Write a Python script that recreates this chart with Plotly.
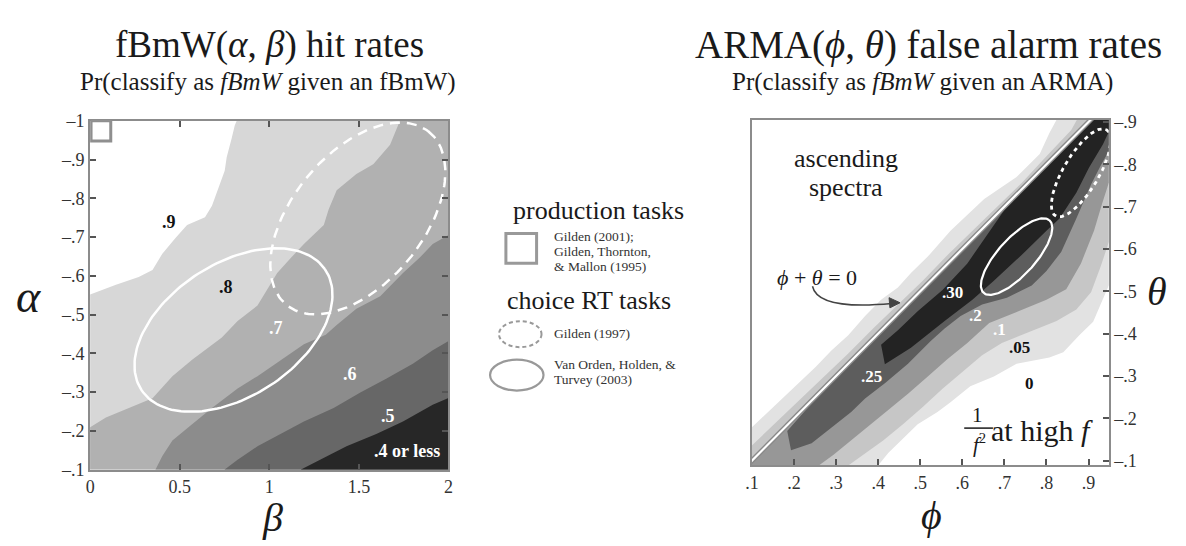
import numpy as np
import plotly.graph_objects as go

W, H = 1186, 546
SERIF = "Liberation Serif"

# ===================== LEFT PANEL: fBmW(alpha, beta) hit rates =====================
beta_ticks = [0, 0.5, 1, 1.5, 2]
beta_ticktext = ["0", "0.5", "1", "1.5", "2"]
alpha_ticks = [-1.0, -0.9, -0.8, -0.7, -0.6, -0.5, -0.4, -0.3, -0.2, -0.1]
alpha_ticktext = ["–1", "–.9", "–.8", "–.7", "–.6", "–.5", "–.4", "–.3", "–.2", "–.1"]

# contour boundaries (beta, alpha)
hit_b90_beta = [0.818, 0.807, 0.790, 0.762, 0.751, 0.713, 0.680, 0.641, 0.541, 0.475, 0.403, 0.348, 0.271, 0.144, 0.0]
hit_b90_alpha = [-1.0, -0.988, -0.955, -0.906, -0.871, -0.821, -0.781, -0.751, -0.731, -0.697, -0.657, -0.615, -0.597, -0.577, -0.552]
hit_b80_beta = [1.729, 1.674, 1.580, 1.486, 1.376, 1.331, 1.304, 1.193, 1.122, 1.044, 1.011, 0.934, 0.823, 0.735, 0.569, 0.459, 0.348, 0.215, 0.088, 0.0]
hit_b80_alpha = [-1.0, -0.938, -0.888, -0.863, -0.821, -0.771, -0.731, -0.682, -0.647, -0.607, -0.582, -0.523, -0.483, -0.441, -0.383, -0.341, -0.284, -0.259, -0.234, -0.209]
hit_b70_beta = [2.006, 1.912, 1.840, 1.746, 1.619, 1.486, 1.376, 1.315, 1.193, 1.066, 0.934, 0.823, 0.680, 0.569, 0.459, 0.403, 0.365]
hit_b70_alpha = [-0.707, -0.682, -0.647, -0.607, -0.547, -0.515, -0.473, -0.448, -0.423, -0.383, -0.341, -0.309, -0.259, -0.217, -0.175, -0.135, -0.100]
hit_b60_beta = [2.006, 1.912, 1.801, 1.652, 1.508, 1.359, 1.193, 1.066, 0.934, 0.823, 0.751]
hit_b60_alpha = [-0.433, -0.408, -0.373, -0.334, -0.299, -0.259, -0.224, -0.192, -0.160, -0.125, -0.100]
hit_b50_beta = [2.006, 1.912, 1.746, 1.597, 1.431, 1.287, 1.177]
hit_b50_alpha = [-0.286, -0.267, -0.224, -0.192, -0.160, -0.125, -0.100]
hit_fills = ["#d7d7d7", "#b1b1b1", "#8c8c8c", "#676767", "#272727"]

hit_labels = [".9", ".8", ".7", ".6", ".5", ".4 or less"]
hit_label_beta = [0.44, 0.76, 1.04, 1.45, 1.66, 1.77]
hit_label_alpha = [-0.739, -0.572, -0.465, -0.346, -0.237, -0.147]
hit_label_colors = ["#111111", "#111111", "#ffffff", "#ffffff", "#ffffff", "#ffffff"]

# data regions (ellipses: centre, two conjugate semi-axes)
gilden97_c, gilden97_u, gilden97_v = [1.494, -0.748], [0.393, -0.225], [0.290, 0.103]
vanorden_c, vanorden_u, vanorden_v = [0.80, -0.46], [0.509, -0.158], [0.215, 0.140]
gilden01_box = [0.005, 0.115, -1.0, -0.948]

# ===================== RIGHT PANEL: ARMA(phi, theta) false alarm rates =====================
phi_ticks = [0.1, 0.2, 0.3, 0.4, 0.5, 0.6, 0.7, 0.8, 0.9]
phi_ticktext = [".1", ".2", ".3", ".4", ".5", ".6", ".7", ".8", ".9"]
theta_ticks = [-0.9, -0.8, -0.7, -0.6, -0.5, -0.4, -0.3, -0.2, -0.1]
theta_ticktext = ["–.9", "–.8", "–.7", "–.6", "–.5", "–.4", "–.3", "–.2", "–.1"]

# boundaries above the phi+theta=0 line
fa_fringe_outer_phi = [0.1, 0.148, 0.195, 0.252, 0.289, 0.329, 0.369, 0.407, 0.447, 0.478, 0.518, 0.572, 0.652, 0.729, 0.784, 0.807, 0.824]
fa_fringe_outer_theta = [-0.179, -0.224, -0.270, -0.322, -0.360, -0.396, -0.442, -0.480, -0.509, -0.543, -0.582, -0.643, -0.718, -0.770, -0.824, -0.874, -0.905]
fa_fringe_inner_phi = [0.1, 0.153, 0.212, 0.271, 0.329, 0.388, 0.447, 0.506, 0.565, 0.624, 0.682, 0.741, 0.800, 0.859, 0.875]
fa_fringe_inner_theta = [-0.136, -0.186, -0.243, -0.299, -0.353, -0.412, -0.469, -0.525, -0.586, -0.643, -0.700, -0.756, -0.819, -0.881, -0.91]
fa_edge20_phi = [0.05, 0.5, 0.95]
fa_edge20_theta = [-0.056, -0.506, -0.956]
fa_edge25_phi = [0.184, 0.23, 0.30, 0.40, 0.50, 0.60, 0.70, 0.80, 0.93]
fa_edge25_theta = [-0.170, -0.222, -0.293, -0.393, -0.495, -0.597, -0.697, -0.797, -0.927]
fa_edge30_phi = [0.407, 0.447, 0.494, 0.553, 0.612, 0.659, 0.70, 0.75, 0.80, 0.93]
fa_edge30_theta = [-0.374, -0.408, -0.453, -0.503, -0.566, -0.632, -0.692, -0.746, -0.797, -0.927]
# boundaries below the line
fa_b05_phi = [0.400, 0.424, 0.459, 0.494, 0.541, 0.572, 0.619, 0.675, 0.729, 0.807, 0.840, 0.878, 0.911, 0.934, 0.948]
fa_b05_theta = [-0.089, -0.118, -0.152, -0.186, -0.215, -0.238, -0.276, -0.299, -0.329, -0.344, -0.356, -0.396, -0.428, -0.480, -0.514]
fa_b10_phi = [0.329, 0.365, 0.412, 0.459, 0.506, 0.553, 0.600, 0.647, 0.694, 0.753, 0.824, 0.871, 0.906, 0.929, 0.948]
fa_b10_theta = [-0.089, -0.114, -0.148, -0.186, -0.227, -0.270, -0.310, -0.349, -0.378, -0.401, -0.430, -0.457, -0.498, -0.559, -0.616]
fa_b20_phi = [0.259, 0.294, 0.329, 0.376, 0.424, 0.471, 0.518, 0.565, 0.612, 0.664, 0.729, 0.800, 0.847, 0.882, 0.913, 0.932, 0.948]
fa_b20_theta = [-0.089, -0.114, -0.141, -0.181, -0.220, -0.258, -0.299, -0.340, -0.378, -0.425, -0.452, -0.480, -0.505, -0.566, -0.643, -0.706, -0.756]
fa_b25_phi = [0.193, 0.242, 0.289, 0.336, 0.369, 0.416, 0.471, 0.525, 0.558, 0.596, 0.647, 0.706, 0.765, 0.800, 0.835, 0.871, 0.906, 0.929, 0.948]
fa_b25_theta = [-0.125, -0.141, -0.179, -0.215, -0.247, -0.283, -0.329, -0.383, -0.412, -0.442, -0.469, -0.485, -0.514, -0.548, -0.593, -0.672, -0.752, -0.797, -0.831]
fa_b30_phi = [0.416, 0.478, 0.558, 0.624, 0.675, 0.741, 0.800, 0.831, 0.871, 0.901, 0.934, 0.948]
fa_b30_theta = [-0.328, -0.367, -0.430, -0.480, -0.525, -0.586, -0.643, -0.672, -0.733, -0.792, -0.847, -0.876]
fa_fills = ["#e2e2e2", "#c6c6c6", "#979797", "#5d5d5d", "#232323"]

fa_labels = [".30", ".25", ".2", ".1", ".05", "0"]
fa_label_phi = [0.576, 0.384, 0.631, 0.689, 0.736, 0.760]
fa_label_theta = [-0.498, -0.299, -0.442, -0.410, -0.367, -0.283]
fa_label_colors = ["#ffffff", "#ffffff", "#ffffff", "#ffffff", "#111111", "#111111"]

zero_line_phi = [0.0, 1.0]
zero_line_theta = [0.0, -1.0]

vo_arma_c, vo_arma_u, vo_arma_v = [0.729, -0.582], [0.0779, -0.0860], [0.0336, 0.0281]
g97_arma_c, g97_arma_u, g97_arma_v = [0.882, -0.780], [0.060, -0.102], [0.037, 0.020]

# ===================== helpers =====================
def px(x):
    return x / W


def py(y):
    return 1 - y / H


def ellipse(c, u, v, n=160):
    t = np.linspace(0, 2 * np.pi, n)
    return (c[0] + u[0] * np.cos(t) + v[0] * np.sin(t),
            c[1] + u[1] * np.cos(t) + v[1] * np.sin(t))


def left_region(bx, by):
    x0, x1, yb, yt = -0.3, 2.3, 0.1, -1.2
    xs, ys = list(bx), list(by)
    if bx[-1] <= 0.001:
        xs += [x0, x0]
        ys += [by[-1], yb]
    else:
        xs += [bx[-1]]
        ys += [yb]
    xs += [x1]
    ys += [yb]
    if by[0] <= -0.999:
        xs += [x1, bx[0]]
        ys += [yt, yt]
    else:
        xs += [x1]
        ys += [by[0]]
    return xs, ys


def band(ux, uy, lx, ly, open_start=True):
    xs = list(ux) + [ux[-1], 1.1, 1.1] + list(lx[::-1])
    ys = list(uy) + [-1.1, -1.1, ly[-1]] + list(ly[::-1])
    if open_start:
        xs += [lx[0], 0.0, 0.0]
        ys += [0.1, 0.1, uy[0]]
    return xs, ys


fig = go.Figure()

# ---- left panel fills
for (bx, by), col in zip([(hit_b90_beta, hit_b90_alpha), (hit_b80_beta, hit_b80_alpha),
                          (hit_b70_beta, hit_b70_alpha), (hit_b60_beta, hit_b60_alpha),
                          (hit_b50_beta, hit_b50_alpha)], hit_fills):
    xs, ys = left_region(bx, by)
    fig.add_trace(go.Scatter(x=xs, y=ys, mode="lines", fill="toself", fillcolor=col,
                             line=dict(width=0, color=col), hoverinfo="skip",
                             showlegend=False, xaxis="x", yaxis="y"))

ex, ey = ellipse(gilden97_c, gilden97_u, gilden97_v)
fig.add_trace(go.Scatter(x=ex, y=ey, mode="lines", line=dict(color="white", width=2.5, dash="10px,7px"),
                         hoverinfo="skip", showlegend=False, xaxis="x", yaxis="y"))
ex, ey = ellipse(vanorden_c, vanorden_u, vanorden_v)
fig.add_trace(go.Scatter(x=ex, y=ey, mode="lines", line=dict(color="white", width=2.5),
                         hoverinfo="skip", showlegend=False, xaxis="x", yaxis="y"))

# ---- right panel fills
bands = [
    (fa_fringe_outer_phi, fa_fringe_outer_theta, fa_b05_phi, fa_b05_theta, True),
    (fa_fringe_inner_phi, fa_fringe_inner_theta, fa_b10_phi, fa_b10_theta, True),
    (fa_edge20_phi, fa_edge20_theta, fa_b20_phi, fa_b20_theta, True),
    (fa_edge25_phi, fa_edge25_theta, fa_b25_phi, fa_b25_theta, False),
    (fa_edge30_phi, fa_edge30_theta, fa_b30_phi, fa_b30_theta, False),
]
for (ux, uy, lx, ly, op), col in zip(bands, fa_fills):
    xs, ys = band(ux, uy, lx, ly, op)
    fig.add_trace(go.Scatter(x=xs, y=ys, mode="lines", fill="toself", fillcolor=col,
                             line=dict(width=0, color=col), hoverinfo="skip",
                             showlegend=False, xaxis="x2", yaxis="y2"))

fig.add_trace(go.Scatter(x=zero_line_phi, y=zero_line_theta, mode="lines",
                         line=dict(color="#8a8a8a", width=5), hoverinfo="skip",
                         showlegend=False, xaxis="x2", yaxis="y2"))
fig.add_trace(go.Scatter(x=zero_line_phi, y=zero_line_theta, mode="lines",
                         line=dict(color="white", width=2.2), hoverinfo="skip",
                         showlegend=False, xaxis="x2", yaxis="y2"))
ex, ey = ellipse(vo_arma_c, vo_arma_u, vo_arma_v)
fig.add_trace(go.Scatter(x=ex, y=ey, mode="lines", line=dict(color="white", width=2.2),
                         hoverinfo="skip", showlegend=False, xaxis="x2", yaxis="y2"))
ex, ey = ellipse(g97_arma_c, g97_arma_u, g97_arma_v)
fig.add_trace(go.Scatter(x=ex, y=ey, mode="lines", line=dict(color="white", width=2.8, dash="4px,4px"),
                         hoverinfo="skip", showlegend=False, xaxis="x2", yaxis="y2"))

# ---- axes
axis_common = dict(showgrid=False, zeroline=False, showline=True, linecolor="#8c8c8c", linewidth=2,
                   ticks="inside", ticklen=6, tickwidth=1.5, tickcolor="#555555",
                   tickfont=dict(family=SERIF, size=18, color="#333333"))
fig.update_layout(
    width=W, height=H,
    margin=dict(l=0, r=0, t=0, b=0),
    paper_bgcolor="white", plot_bgcolor="white",
    showlegend=False,
    xaxis=dict(domain=[px(84), px(446)], range=[0, 2], tickvals=beta_ticks, ticktext=beta_ticktext,
               mirror="ticks", anchor="y", **axis_common),
    yaxis=dict(domain=[py(477), py(115)], range=[-0.1, -1.0], tickvals=alpha_ticks, ticktext=alpha_ticktext,
               mirror="ticks", anchor="x", **axis_common),
    xaxis2=dict(domain=[px(752.5), px(1113)], range=[0.1, 0.948], tickvals=phi_ticks, ticktext=phi_ticktext,
                mirror=True, anchor="y2", **axis_common),
    yaxis2=dict(domain=[py(472.7), py(114)], range=[-0.089, -0.905], tickvals=theta_ticks, ticktext=theta_ticktext,
                mirror=True, anchor="x2", side="right", **axis_common),
)

annotations = []


def ann(text, x, y, size, color="#222222", xanchor="center", yanchor="middle", xref="paper", yref="paper", **kw):
    annotations.append(dict(text=text, x=x, y=y, xref=xref, yref=yref, showarrow=False,
                            xanchor=xanchor, yanchor=yanchor,
                            font=dict(family=SERIF, size=size, color=color), **kw))


# titles
ann("fBmW(<i>α</i>, <i>β</i>) hit rates", px(265), py(36), 37, "#1a1a1a")
ann("Pr(classify as <i>fBmW</i> given an fBmW)", px(264), py(75), 25, "#1a1a1a")
ann("ARMA(<i>ϕ</i>, <i>θ</i>) false alarm rates", px(931), py(36), 39, "#1a1a1a")
ann("Pr(classify as <i>fBmW</i> given an ARMA)", px(925), py(75), 25, "#1a1a1a")
# axis titles
ann("<i>α</i>", px(22), py(297), 46, "#1a1a1a")
ann("<i>β</i>", px(268), py(527), 40, "#1a1a1a")
ann("<i>θ</i>", px(1162), py(292), 40, "#1a1a1a")
ann("<i>ϕ</i>", px(934), py(525), 40, "#1a1a1a")

# contour labels
for t, x, y, c in zip(hit_labels, hit_label_beta, hit_label_alpha, hit_label_colors):
    ann("<b>%s</b>" % t, x, y, 18, c, xref="x", yref="y")
for t, x, y, c in zip(fa_labels, fa_label_phi, fa_label_theta, fa_label_colors):
    ann("<b>%s</b>" % t, x, y, 17, c, xref="x2", yref="y2")

# right panel texts
ann("ascending", px(848), py(154), 26, "#1a1a1a")
ann("spectra", px(848), py(184), 26, "#1a1a1a")
ann("<i>ϕ</i> + <i>θ</i> = 0", px(818), py(278), 22, "#1a1a1a")
ann("1", px(980), py(420), 21, "#1a1a1a")
ann("<i>f</i><sup>2</sup>", px(982), py(450), 21, "#1a1a1a")
ann("at high <i>f</i>", px(1046), py(436), 30, "#1a1a1a")

# legend block
ann("production tasks", px(598), py(208), 26, "#1a1a1a")
ann("Gilden (2001);", px(551), py(235), 13.5, "#333333", xanchor="left")
ann("Gilden, Thornton,", px(551), py(250.5), 13.5, "#333333", xanchor="left")
ann("&amp; Mallon (1995)", px(551), py(266), 13.5, "#333333", xanchor="left")
ann("choice RT tasks", px(588), py(302), 26, "#1a1a1a")
ann("Gilden (1997)", px(551), py(336), 13.5, "#333333", xanchor="left")
ann("Van Orden, Holden, &amp;", px(551), py(367.5), 13.5, "#333333", xanchor="left")
ann("Turvey (2003)", px(551), py(383.5), 13.5, "#333333", xanchor="left")

fig.update_layout(annotations=annotations)

shapes = [
    # production-task box in the left panel
    dict(type="rect", xref="x", yref="y", x0=gilden01_box[0], x1=gilden01_box[1],
         y0=gilden01_box[2], y1=gilden01_box[3], line=dict(color="#8f8f8f", width=3), fillcolor="white"),
    # legend symbols
    dict(type="rect", xref="paper", yref="paper", x0=px(504), x1=px(535), y0=py(263), y1=py(232),
         line=dict(color="#999999", width=3), fillcolor="white"),
    dict(type="circle", xref="paper", yref="paper", x0=px(497), x1=px(540), y0=py(350), y1=py(323),
         line=dict(color="#999999", width=2, dash="4px,3px")),
    dict(type="circle", xref="paper", yref="paper", x0=px(488), x1=px(542), y0=py(395), y1=py(363),
         line=dict(color="#999999", width=2.2)),
    # fraction bar of 1/f^2
    dict(type="line", xref="paper", yref="paper", x0=px(967), x1=px(996), y0=py(434), y1=py(434),
         line=dict(color="#1a1a1a", width=1.5)),
    # curved pointer to phi+theta=0 and its arrowhead
    dict(type="path", xref="x2", yref="y2", path="M 0.244,-0.512 Q 0.256,-0.455 0.432,-0.471",
         line=dict(color="#444444", width=1.5)),
    dict(type="path", xref="x2", yref="y2", path="M 0.452,-0.473 L 0.426,-0.485 L 0.428,-0.461 Z",
         line=dict(color="#444444", width=1), fillcolor="#444444"),
]
fig.update_layout(shapes=shapes)

fig.write_html(
    "out.html",
    config={"displayModeBar": False},
    post_script="document.body.style.margin='0px';document.body.style.padding='0px';"
                "document.body.style.overflow='hidden';",
)
